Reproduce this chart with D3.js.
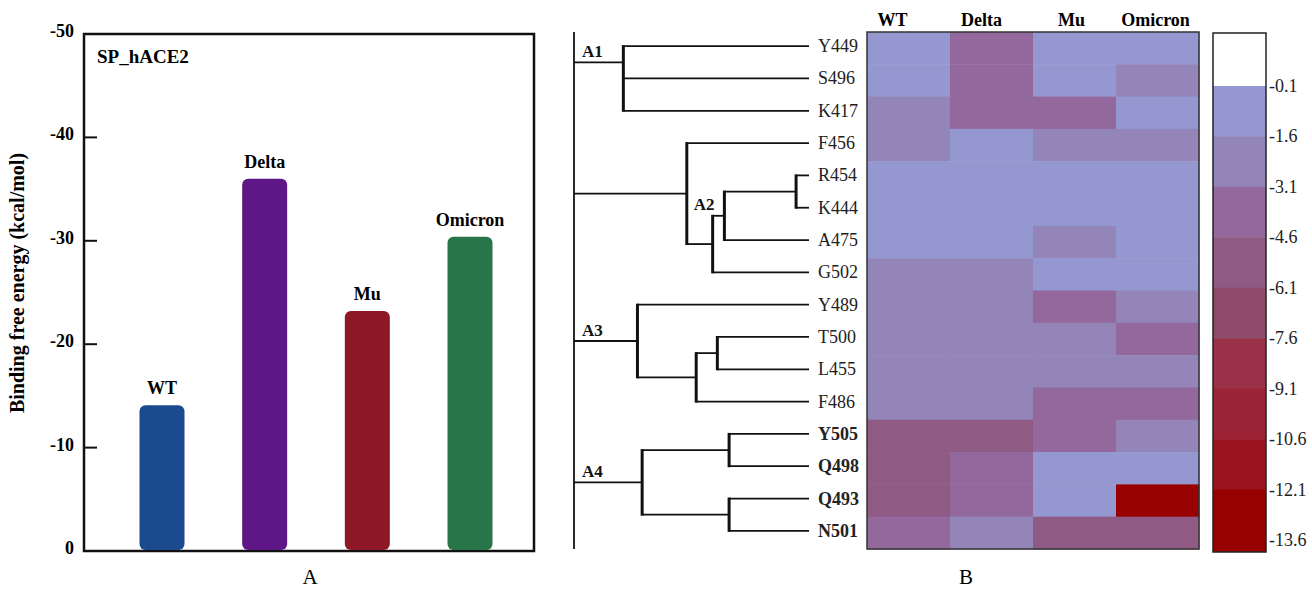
<!DOCTYPE html>
<html>
<head>
<meta charset="utf-8">
<script src="https://cdn.jsdelivr.net/npm/d3@7"></script>
<style>
  html, body { margin: 0; padding: 0; background: #fff; }
  svg { display: block; font-family: "Liberation Serif", "Times New Roman", serif; }
</style>
</head>
<body>
<svg id="chart" width="1312" height="589"></svg>
<script>
// ---------- Panel A data ----------
const variants = ["WT", "Delta", "Mu", "Omicron"];
const bindingEnergy = [-14.1, -36.0, -23.2, -30.4];
const barColors = ["#1c4a8e", "#5f1787", "#8d1727", "#277549"];
const yTicksA = [0, -10, -20, -30, -40, -50];

// ---------- Panel B data ----------
const residues = ["Y449","S496","K417","F456","R454","K444","A475","G502",
                  "Y489","T500","L455","F486","Y505","Q498","Q493","N501"];
const boldResidues = ["Y505","Q498","Q493","N501"];
// rows: residues, columns: WT, Delta, Mu, Omicron
const wtValues      = [-1.2, -1.0, -2.6, -2.7, -0.8, -0.6, -1.3, -2.3, -2.8, -2.9, -2.5, -2.6, -5.2, -5.1, -5.3, -3.7];
const deltaValues   = [-4.1, -4.2, -4.3, -1.4, -0.9, -0.7, -1.2, -2.4, -2.9, -2.8, -2.6, -2.7, -5.0, -3.8, -3.9, -2.6];
const muValues      = [-1.1, -0.9, -4.0, -2.5, -1.0, -0.8, -2.2, -1.3, -3.8, -2.7, -2.9, -3.9, -3.9, -1.4, -1.2, -5.4];
const omicronValues = [-1.3, -2.5, -1.2, -2.6, -0.9, -0.7, -1.1, -1.4, -2.4, -3.7, -2.8, -3.6, -2.7, -1.5, -13.0, -5.2];

// colour scale thresholds / legend tick labels
const legendTicks = [-0.1, -1.6, -3.1, -4.6, -6.1, -7.6, -9.1, -10.6, -12.1, -13.6];
const bandColors = ["#9497d0", "#9385b8", "#93699d", "#8f5a83", "#8e4b6c", "#993249", "#9a2336", "#9b1520", "#990000"];

// dendrogram (merge heights, arbitrary distance units)
const dendrogram = {h: 10, children: [
  {name: "A1", h: 7.9, children: [{leaf: "Y449"}, {leaf: "S496"}, {leaf: "K417"}]},
  {name: "A2", h: 5.2, children: [
    {leaf: "F456"},
    {h: 4.1, children: [
      {h: 3.6, children: [
        {h: 0.55, children: [{leaf: "R454"}, {leaf: "K444"}]},
        {leaf: "A475"}]},
      {leaf: "G502"}]}]},
  {name: "A3", h: 7.3, children: [
    {leaf: "Y489"},
    {h: 4.8, children: [
      {h: 3.9, children: [{leaf: "T500"}, {leaf: "L455"}]},
      {leaf: "F486"}]}]},
  {name: "A4", h: 7.1, children: [
    {h: 3.4, children: [{leaf: "Y505"}, {leaf: "Q498"}]},
    {h: 3.4, children: [{leaf: "Q493"}, {leaf: "N501"}]}]}
]};

const svg = d3.select("#chart");

// ================= Panel A =================
const A = {left: 84, right: 534, top: 34, bottom: 551};
const yA = d3.scaleLinear().domain([0, -50]).range([A.bottom, A.top]);
const xA = d3.scalePoint().domain(variants).range([162, 470]);
const barW = 45;

const gA = svg.append("g");
gA.append("rect")
  .attr("x", A.left).attr("y", A.top)
  .attr("width", A.right - A.left).attr("height", A.bottom - A.top)
  .attr("fill", "none").attr("stroke", "#111").attr("stroke-width", 2.5);

// ticks
gA.selectAll(".tk").data(yTicksA.filter(t => t !== 0 && t !== -50)).join("line")
  .attr("x1", A.left).attr("x2", A.left + 13)
  .attr("y1", d => yA(d)).attr("y2", d => yA(d))
  .attr("stroke", "#111").attr("stroke-width", 2);
gA.selectAll(".tl").data(yTicksA).join("text")
  .attr("x", 74).attr("y", d => yA(d) + 3)
  .attr("text-anchor", "end").attr("font-weight", "bold").attr("font-size", 18)
  .text(d => d === 0 ? "0" : String(d));

// bars
gA.selectAll(".bar").data(variants).join("rect")
  .attr("x", d => xA(d) - barW / 2)
  .attr("width", barW)
  .attr("y", (d, i) => yA(bindingEnergy[i]))
  .attr("height", (d, i) => yA(0) - 1 - yA(bindingEnergy[i]))
  .attr("rx", 6).attr("ry", 6)
  .attr("fill", (d, i) => barColors[i]);
gA.selectAll(".bl").data(variants).join("text")
  .attr("x", d => xA(d))
  .attr("y", (d, i) => yA(bindingEnergy[i]) - 11)
  .attr("text-anchor", "middle").attr("font-weight", "bold").attr("font-size", 18)
  .text(d => d);

gA.append("text").attr("x", 97).attr("y", 63)
  .attr("font-weight", "bold").attr("font-size", 19).text("SP_hACE2");

gA.append("text")
  .attr("transform", "translate(24,283) rotate(-90)")
  .attr("text-anchor", "middle").attr("font-weight", "bold").attr("font-size", 20)
  .text("Binding free energy (kcal/mol)");

gA.append("text").attr("x", 310).attr("y", 584)
  .attr("text-anchor", "middle").attr("font-size", 21).text("A");

// ================= Panel B =================
const H = {left: 867, right: 1199, top: 32, bottom: 549};
const xH = d3.scaleBand().domain(variants).range([H.left, H.right]);
const yH = d3.scaleBand().domain(residues).range([H.top, H.bottom]);
const color = d3.scaleThreshold()
  .domain(legendTicks.slice().reverse())
  .range([bandColors[8]].concat(bandColors.slice().reverse(), ["#ffffff"]));

const columns = [wtValues, deltaValues, muValues, omicronValues];
const cells = [];
residues.forEach((r, i) => variants.forEach((v, j) => cells.push({r, v, val: columns[j][i]})));

const gB = svg.append("g");
gB.selectAll(".cell").data(cells).join("rect")
  .attr("x", d => xH(d.v)).attr("y", d => yH(d.r))
  .attr("width", xH.bandwidth() + 0.5).attr("height", yH.bandwidth() + 0.5)
  .attr("fill", d => color(d.val));
gB.append("rect")
  .attr("x", H.left).attr("y", H.top)
  .attr("width", H.right - H.left).attr("height", H.bottom - H.top)
  .attr("fill", "none").attr("stroke", "#333").attr("stroke-width", 1.5);

// column headers
gB.selectAll(".ch").data(variants).join("text")
  .attr("x", (d, i) => xH(d) + xH.bandwidth() / 2 - [16, 10, 3, 2][i])
  .attr("y", 26)
  .attr("text-anchor", "middle").attr("font-weight", "bold").attr("font-size", 18)
  .text(d => d);

// row labels
gB.selectAll(".rl").data(residues).join("text")
  .attr("x", 818)
  .attr("y", d => yH(d) + yH.bandwidth() / 2 + 4)
  .attr("font-size", 18)
  .attr("font-weight", d => boldResidues.includes(d) ? "bold" : "normal")
  .attr("fill", "#222")
  .text(d => d);

// dendrogram
const xD = d3.scaleLinear().domain([10, 0]).range([574, 809]);
function layout(node) {
  if (node.leaf) { node.hh = 0; node.y = yH(node.leaf) + yH.bandwidth() / 2 - 2; return; }
  node.hh = node.h;
  node.children.forEach(layout);
  node.y = (node.children[0].y + node.children[1].y) / 2;
}
layout(dendrogram);

const gD = gB.append("g").attr("stroke", "#111").attr("fill", "none");
function drawNode(node, isRoot) {
  if (node.leaf) return;
  const ys = node.children.map(c => c.y);
  if (isRoot) {
    gD.append("line").attr("x1", xD(node.hh)).attr("x2", xD(node.hh))
      .attr("y1", H.top).attr("y2", H.bottom).attr("stroke-width", 1.8);
  } else {
    gD.append("line").attr("x1", xD(node.hh)).attr("x2", xD(node.hh))
      .attr("y1", d3.min(ys) - 1).attr("y2", d3.max(ys) + 1).attr("stroke-width", 3);
  }
  node.children.forEach(c => {
    gD.append("line").attr("x1", xD(node.hh)).attr("x2", xD(c.hh))
      .attr("y1", c.y).attr("y2", c.y).attr("stroke-width", 1.8);
    drawNode(c, false);
  });
}
drawNode(dendrogram, true);

// cluster labels
dendrogram.children.forEach(c => {
  const isA2 = c.name === "A2";
  gB.append("text")
    .attr("x", isA2 ? xD(c.hh) + 7 : xD(dendrogram.hh) + 8)
    .attr("y", isA2 ? c.y + 16 : c.y - 5)
    .attr("font-weight", "bold").attr("font-size", 17).attr("fill", "#111")
    .text(c.name);
});

gB.append("text").attr("x", 966).attr("y", 584)
  .attr("text-anchor", "middle").attr("font-size", 21).text("B");

// ---------- colour legend ----------
const L = {left: 1213, right: 1266, top: 33, bottom: 552};
const yL = d3.scaleLinear().domain([legendTicks[0], legendTicks[legendTicks.length - 1]]).range([86, 540]);
const gL = svg.append("g");
gL.append("rect").attr("x", L.left).attr("y", L.top)
  .attr("width", L.right - L.left).attr("height", yL(legendTicks[0]) - L.top)
  .attr("fill", "#ffffff");
gL.selectAll(".band").data(bandColors).join("rect")
  .attr("x", L.left).attr("width", L.right - L.left)
  .attr("y", (d, i) => yL(legendTicks[i]))
  .attr("height", (d, i) => (i === bandColors.length - 1 ? L.bottom : yL(legendTicks[i + 1]) + 0.5) - yL(legendTicks[i]))
  .attr("fill", d => d);
gL.append("rect").attr("x", L.left).attr("y", L.top)
  .attr("width", L.right - L.left).attr("height", L.bottom - L.top)
  .attr("fill", "none").attr("stroke", "#222").attr("stroke-width", 1.5);
gL.selectAll(".lt").data(legendTicks).join("text")
  .attr("x", 1269).attr("y", d => yL(d) + 6)
  .attr("font-size", 18).attr("fill", "#222")
  .text(d => d.toFixed(1));
</script>
</body>
</html>
